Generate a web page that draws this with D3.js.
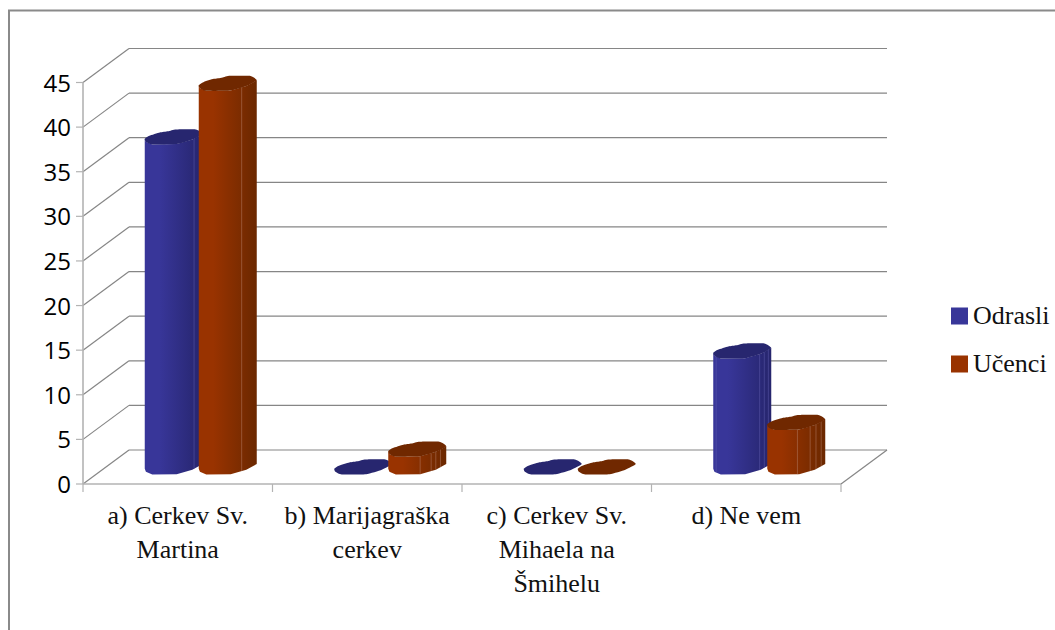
<!DOCTYPE html>
<html><head><meta charset="utf-8">
<script src="https://cdn.jsdelivr.net/npm/d3@7"></script>
<style>html,body{margin:0;background:#fff}svg{display:block}</style></head>
<body><svg id="c" width="1055" height="630"></svg>
<script>
const categories=[["a) Cerkev Sv.","Martina"],["b) Marijagraška","cerkev"],["c) Cerkev Sv.","Mihaela na","Šmihelu"],["d) Ne vem"]];
const seriesNames=["Odrasli","Učenci"];
const odrasli=[37,0,0,13];
const ucenci=[43,2,0,5];
const yTicks=[0,5,10,15,20,25,30,35,40,45];
const colors={Odrasli:{light:"#383699",dark:"#26256d",top:"#27266f",edge:"#5f5eb0"},Učenci:{light:"#993300",dark:"#6b2800",top:"#702800",edge:"#b5806a"}};
const facetsOdrasli=[[.85],[],[],[.05,.8,.88,.95]];
const facetsUcenci=[[.74],[.55,.74,.82,.9],[],[.52,.74,.84,.93]];

const svg=d3.select("#c");
const x=d3.scaleBand().domain(d3.range(categories.length)).range([83,841]);
const y=d3.scaleLinear().domain([0,45]).range([484,82.5]);
const depth={dx:46,dy:-34};
const barW=58,capH=15,barLift=9.5,barOff=23;
const grid="#868686",axisC="#b3b3b3";

const defs=svg.append("defs");
seriesNames.forEach((s,i)=>{
 const g=defs.append("linearGradient").attr("id","g"+i);
 g.append("stop").attr("offset","0").attr("stop-color",colors[s].light);
 g.append("stop").attr("offset","0.25").attr("stop-color",colors[s].light);
 g.append("stop").attr("offset","1").attr("stop-color",colors[s].dark);
});

svg.append("path").attr("d","M9,630V10.5H1055").attr("fill","none").attr("stroke","#8a8a8a").attr("stroke-width",2);

yTicks.forEach(t=>{
 svg.append("line").attr("x1",x.range()[0]).attr("y1",y(t)).attr("x2",x.range()[0]+depth.dx).attr("y2",y(t)+depth.dy).attr("stroke",grid).attr("stroke-width",1.2);
 svg.append("line").attr("x1",x.range()[0]+depth.dx).attr("y1",y(t)+depth.dy).attr("x2",x.range()[1]+depth.dx).attr("y2",y(t)+depth.dy).attr("stroke",grid).attr("stroke-width",1.2);
 svg.append("line").attr("x1",x.range()[0]-7).attr("y1",y(t)).attr("x2",x.range()[0]).attr("y2",y(t)).attr("stroke",axisC).attr("stroke-width",1.2);
 svg.append("text").attr("x",71).attr("y",y(t)+9).attr("text-anchor","end").attr("font-family","Open Sans").attr("font-size",24).attr("fill","#000").text(t);
});
svg.append("line").attr("x1",x.range()[1]).attr("y1",y(0)).attr("x2",x.range()[1]+depth.dx).attr("y2",y(0)+depth.dy).attr("stroke",grid).attr("stroke-width",1.2);
svg.append("line").attr("x1",x.range()[0]).attr("y1",y(45)).attr("x2",x.range()[0]).attr("y2",y(0)).attr("stroke",axisC).attr("stroke-width",1.6);
svg.append("line").attr("x1",x.range()[0]).attr("y1",y(0)).attr("x2",x.range()[1]).attr("y2",y(0)).attr("stroke",axisC).attr("stroke-width",1.6);
d3.range(categories.length+1).forEach(i=>{
 const px=x.range()[0]+i*x.step();
 svg.append("line").attr("x1",px).attr("y1",y(0)).attr("x2",px).attr("y2",y(0)+8).attr("stroke",axisC).attr("stroke-width",1.2);
});

// outline of the faceted cap, as fractions of bar width and cap height
const capProfile=[[0,.62],[.08,.42],[.26,.2],[.4,.12],[.54,0],[.88,0],[1,.3],[.82,.68],[.55,.98],[.13,1],[.02,.82]];
const frontProfile=[[0,.62],[.02,.82],[.13,1],[.55,.98],[.82,.68],[1,.3]];
const line=d3.line();
const capLine=d3.line().curve(d3.curveCardinalClosed.tension(.5));
function drawBar(cat,ser,v,facets){
 const c=colors[ser],idx=seriesNames.indexOf(ser);
 const mid=x(cat)+x.bandwidth()/2+barOff;
 const left=idx===0?mid-56:mid-2;
 const yLow=y(v)-barLift, capTop=yLow-capH, h=y(0)-y(v);
 const pt=([u,w],dy=0)=>[left+u*barW,capTop+w*capH+dy];
 const g=svg.append("g");
 if(h>0){
  const front=frontProfile.map(p=>pt(p));
  const base=frontProfile.map(p=>pt(p,h)).reverse();
  g.append("path").attr("d",line(front.concat(base))+"Z").attr("fill",`url(#g${idx})`);
  facets.forEach(f=>{
   const xf=left+f*barW;
   let i=d3.bisector(d=>d[0]).left(frontProfile,f);
   i=Math.max(1,i);
   const a=frontProfile[i-1],b=frontProfile[i],w=a[1]+(b[1]-a[1])*(f-a[0])/(b[0]-a[0]);
   g.append("line").attr("x1",xf).attr("x2",xf).attr("y1",capTop+w*capH).attr("y2",capTop+w*capH+h).attr("stroke",c.edge).attr("stroke-width",.7).attr("stroke-opacity",.7);
  });
 }
 g.append("path").attr("d",capLine(capProfile.map(p=>pt(p)))).attr("fill",c.top);
}
categories.forEach((_,i)=>{
 drawBar(i,"Odrasli",odrasli[i],facetsOdrasli[i]);
 drawBar(i,"Učenci",ucenci[i],facetsUcenci[i]);
});

const serif="Liberation Serif";
categories.forEach((lines,i)=>{
 lines.forEach((t,j)=>{
  svg.append("text").attr("x",x(i)+x.bandwidth()/2).attr("y",524+j*34).attr("text-anchor","middle")
   .attr("font-family",serif).attr("font-size",26).attr("fill","#111").text(t);
 });
});
seriesNames.forEach((s,i)=>{
 const ly=316+i*48;
 svg.append("rect").attr("x",951).attr("y",ly-8.5).attr("width",17).attr("height",17).attr("fill",colors[s].light);
 svg.append("text").attr("x",973).attr("y",ly+8).attr("font-family",serif).attr("font-size",26).attr("fill","#111").text(s);
});
</script></body></html>
